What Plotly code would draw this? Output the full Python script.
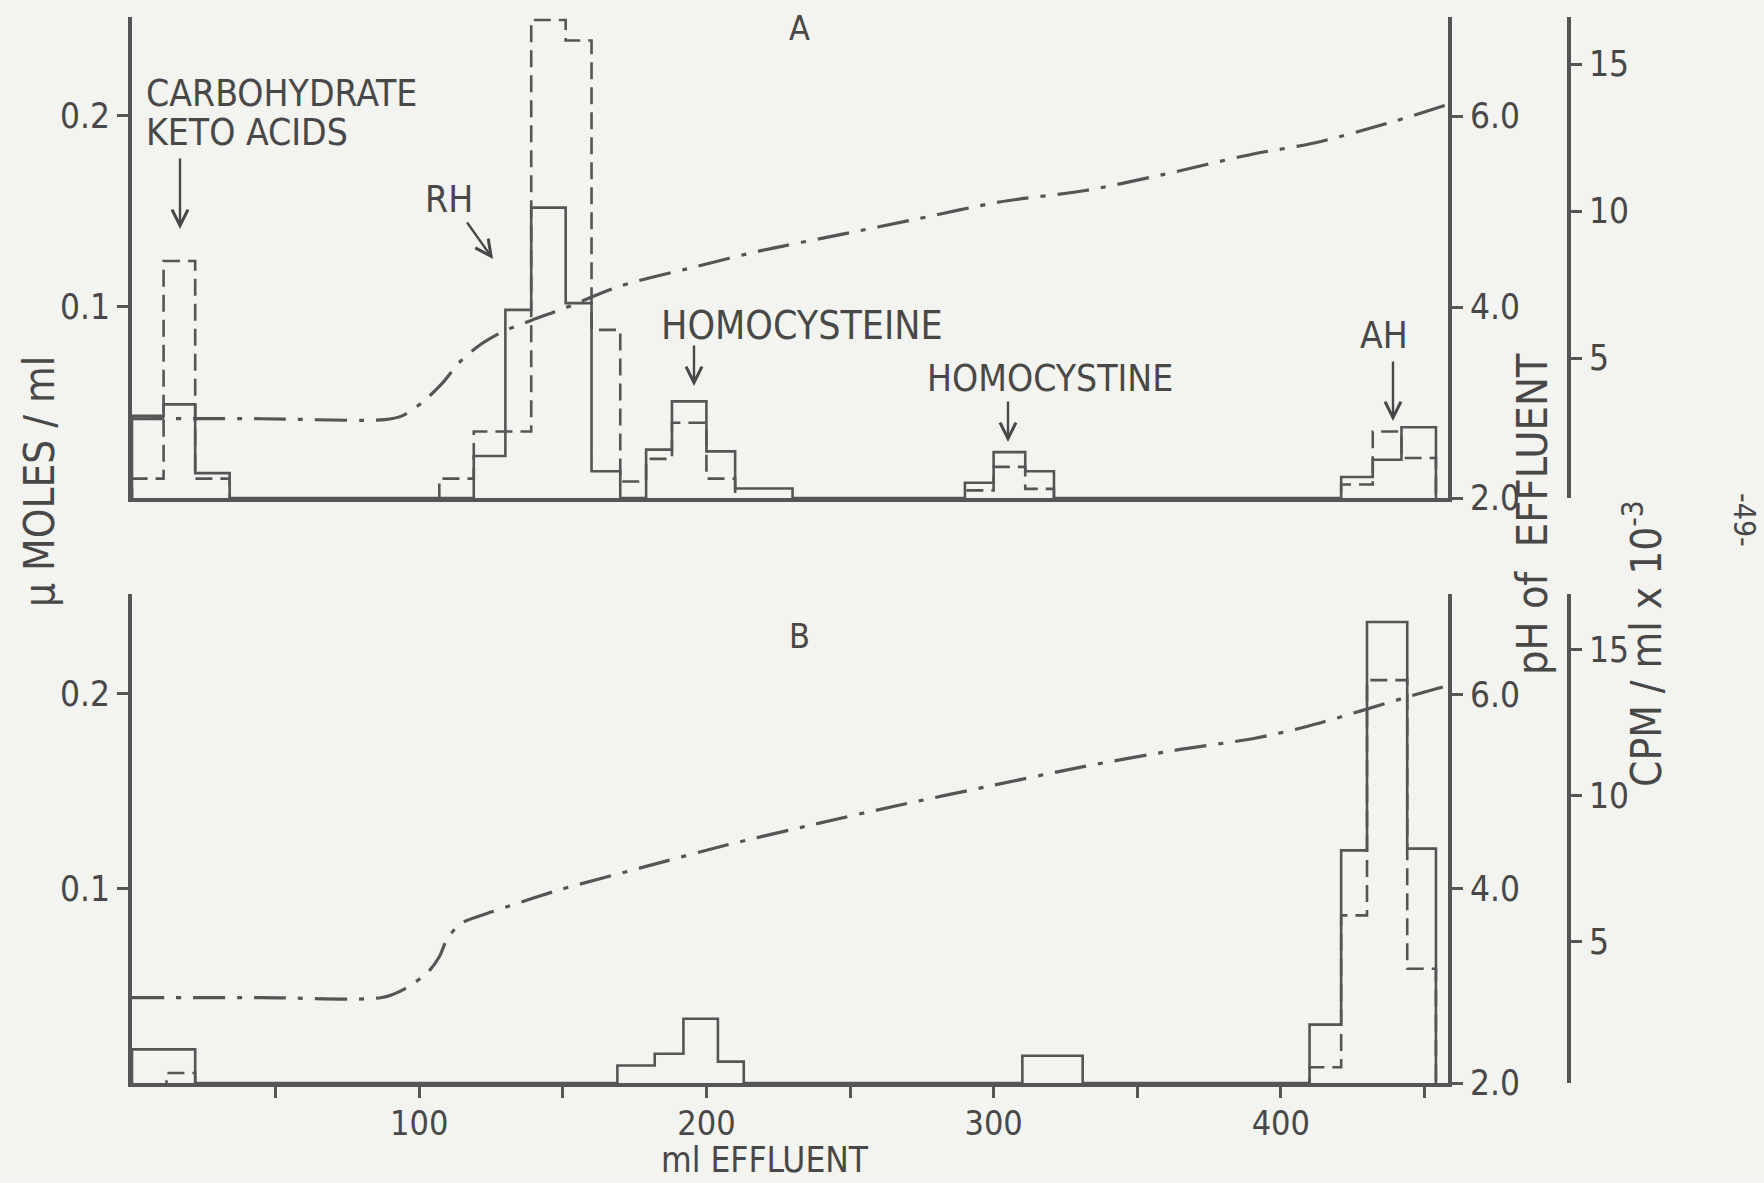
import plotly.graph_objects as go

# ---- data -------------------------------------------------------------
# Panel A: fraction boundaries (ml effluent) and per-fraction readings
edges_a = [0, 11, 22, 34, 107, 119, 130, 139, 151, 160, 170, 179, 188, 200,
           210, 230, 290, 300, 311, 321, 421, 432, 442, 454]
umol_a = [0.043, 0.049, 0.013, 0, 0, 0.022, 0.0985, 0.152, 0.102, 0.014, 0,
          0.0253, 0.0506, 0.0244, 0.005, 0, 0.008, 0.024, 0.014, 0, 0.011,
          0.020, 0.037]
cpm_a = [0.9, 8.3, 0.9, 0, 0.9, 2.5, 2.5, 16.5, 15.8, 5.96, 0.8, 1.57, 2.8,
         0.9, 0, 0, 0.5, 1.3, 0.55, 0, 0.7, 2.5, 1.6]

# Panel A: pH of effluent
ph_ml_a = [0, 45, 88, 94, 101, 108, 114, 121, 129, 139, 150, 170, 196, 219,
           247, 273, 302, 332, 358, 390, 412, 440, 458]
ph_a = [2.83, 2.83, 2.82, 2.86, 3.0, 3.2, 3.42, 3.6, 3.74, 3.86, 3.98, 4.22,
        4.42, 4.59, 4.76, 4.92, 5.1, 5.22, 5.38, 5.6, 5.72, 5.95, 6.12]

# Panel B: fraction boundaries and per-fraction readings
edges_b = [0, 12, 22, 169, 182, 192, 204, 213, 310, 331, 410, 421, 430, 444, 454]
umol_b = [0.0173, 0.0173, 0, 0.009, 0.015, 0.033, 0.011, 0, 0.014, 0, 0.030,
          0.1196, 0.237, 0.1205]
cpm_b = [0, 0.5, 0, 0, 0, 0, 0, 0, 0, 0, 0.7, 5.9, 13.95, 4.07]

# Panel B: pH of effluent
ph_ml_b = [0, 45, 87, 95, 103, 107, 110, 115, 121, 125, 149, 179, 207, 237,
           267, 299, 330, 362, 391, 409, 447, 458]
ph_b = [2.88, 2.88, 2.88, 2.97, 3.14, 3.3, 3.5, 3.65, 3.72, 3.76, 3.99, 4.23,
        4.45, 4.66, 4.86, 5.06, 5.25, 5.42, 5.55, 5.67, 6.0, 6.09]

x_major_ticks = [100, 200, 300, 400]
x_minor_ticks = [50, 150, 250, 350, 450]

# ---- styling ----------------------------------------------------------
W, H = 1764, 1183
BG = "rgb(243,243,239)"
INK = "rgb(72,72,72)"
LINE = "rgb(85,85,85)"
FONT = "DejaVu Sans Condensed, Liberation Sans Narrow, DejaVu Sans, sans-serif"


def px(x):
    return x / W


def py(y):
    return 1 - y / H


XD = [px(132), px(1448)]
CPM_POS = px(1569)
YA = [py(498), py(17)]
YB = [py(1083), py(594)]


def steps(edges, vals):
    """Outline of a fraction histogram, closed down to the baseline."""
    xs = [edges[0]] + list(edges)
    ys = [0] + list(vals) + [0]
    return xs, ys


fig = go.Figure()

for xs_name, edges, umol, cpm, phx, phy, ya, yp, yc in [
    ("x", edges_a, umol_a, cpm_a, ph_ml_a, ph_a, "y", "y2", "y3"),
    ("x2", edges_b, umol_b, cpm_b, ph_ml_b, ph_b, "y4", "y5", "y6"),
]:
    sx, sy = steps(edges, umol)
    fig.add_trace(go.Scatter(x=sx, y=sy, xaxis=xs_name, yaxis=ya, mode="lines",
                             line=dict(shape="hv", color=LINE, width=2.6),
                             showlegend=False, hoverinfo="skip"))
    cx, cy = steps(edges, cpm)
    fig.add_trace(go.Scatter(x=cx, y=cy, xaxis=xs_name, yaxis=yc, mode="lines",
                             line=dict(shape="hv", color=LINE, width=2.6,
                                       dash="17px,8px"),
                             showlegend=False, hoverinfo="skip"))
    fig.add_trace(go.Scatter(x=phx, y=phy, xaxis=xs_name, yaxis=yp, mode="lines",
                             line=dict(shape="spline", smoothing=0.8, color=LINE,
                                       width=3.2, dash="32px,12px,5px,12px"),
                             showlegend=False, hoverinfo="skip"))

tick_font = dict(family=FONT, size=35, color=INK)
axis_common = dict(showgrid=False, zeroline=False, showline=True,
                   linecolor=LINE, linewidth=4, ticks="outside", ticklen=11,
                   tickwidth=2.5, tickcolor=LINE, tickfont=tick_font,
                   automargin=False)

fig.update_layout(
    width=W, height=H,
    margin=dict(l=0, r=0, t=0, b=0),
    paper_bgcolor=BG, plot_bgcolor=BG,
    template="none",
    showlegend=False,
    xaxis=dict(domain=XD, range=[0, 458.2], anchor="y", showgrid=False,
               zeroline=False, showline=True, linecolor=LINE, linewidth=3.5,
               ticks="", showticklabels=False, automargin=False),
    yaxis=dict(domain=YA, range=[0, 0.2518], anchor="x", side="left",
               tickvals=[0.1, 0.2], ticktext=["0.1", "0.2"], **axis_common),
    yaxis2=dict(overlaying="y", anchor="x", side="right", range=[2, 7.037],
                tickvals=[2, 4, 6], ticktext=["2.0", "4.0", "6.0"],
                **axis_common),
    yaxis3=dict(overlaying="y", anchor="free", position=CPM_POS, side="right",
                range=[0.24, 16.6], tickvals=[5, 10, 15],
                ticktext=["5", "10", "15"], **axis_common),
    xaxis2=dict(domain=XD, range=[0, 458.2], anchor="y4",
                tickvals=x_major_ticks,
                ticktext=[str(v) for v in x_major_ticks],
                minor=dict(tickvals=x_minor_ticks, ticks="outside", ticklen=11,
                           tickwidth=2.5, tickcolor=LINE, showgrid=False),
                ticklabelstandoff=-4,
                **{**axis_common, "tickfont": dict(family=FONT, size=34,
                                                   color=INK)}),
    yaxis4=dict(domain=YB, range=[0, 0.2514], anchor="x2", side="left",
                tickvals=[0.1, 0.2], ticktext=["0.1", "0.2"], **axis_common),
    yaxis5=dict(overlaying="y4", anchor="x2", side="right", range=[2, 7.035],
                tickvals=[2, 4, 6], ticktext=["2.0", "4.0", "6.0"],
                **axis_common),
    yaxis6=dict(overlaying="y4", anchor="free", position=CPM_POS, side="right",
                range=[0.16, 16.9], tickvals=[5, 10, 15],
                ticktext=["5", "10", "15"], **axis_common),
)


def label(text, x, y, size=37, xanchor="center", yanchor="middle", angle=0):
    fig.add_annotation(text=text, x=px(x), y=py(y), xref="paper", yref="paper",
                       showarrow=False, xanchor=xanchor, yanchor=yanchor,
                       textangle=angle,
                       font=dict(family=FONT, size=size, color=INK))


def arrow(x0, y0, x1, y1):
    fig.add_annotation(text="", x=px(x1), y=py(y1), xref="paper", yref="paper",
                       ax=x0 - x1, ay=y0 - y1, axref="pixel", ayref="pixel",
                       showarrow=True, arrowhead=5, arrowsize=1.3,
                       arrowwidth=2.4, arrowcolor=INK)


# panel letters
label("A", 799, 28, size=34)
label("B", 799, 636, size=34)

# peak identifications
label("CARBOHYDRATE", 144, 93, xanchor="left")
label("KETO ACIDS", 144, 132, xanchor="left")
arrow(180, 157, 180, 229)
label("RH", 449, 199)
arrow(466, 221, 493, 259)
label("HOMOCYSTEINE", 802, 325, size=39)
arrow(694, 344, 694, 386)
label("HOMOCYSTINE", 1050, 378)
arrow(1008, 400, 1008, 442)
label("AH", 1384, 335)
arrow(1393, 360, 1393, 421)

# axis titles
label("ml EFFLUENT", 765, 1182, size=35, yanchor="bottom")
label("\u03bc MOLES / ml", 39, 482, size=42, angle=-90)
label("pH of  EFFLUENT", 1532, 514, size=43, angle=-90)
label("CPM / ml x 10<sup>-3</sup>", 1643, 644, size=42, angle=-90)
label("-49-", 1745, 520, size=30, angle=90)

fig.write_html("out.html")
